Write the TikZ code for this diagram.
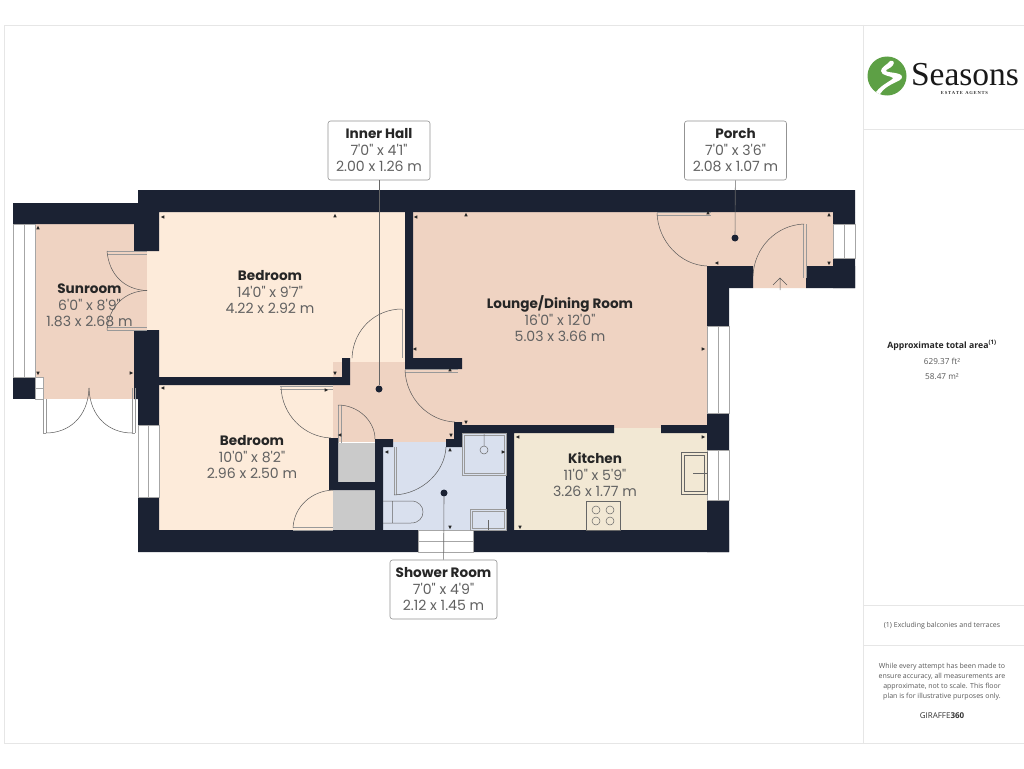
\documentclass[tikz,border=0pt]{standalone}
\usepackage{fontspec}
\setmainfont{Poppins}[Ligatures=TeXOff]
\newfontfamily\sidefont{Open Sans}
\newfontfamily\logofont{Liberation Serif}
\usetikzlibrary{arrows.meta,positioning,calc}
\definecolor{wallc}{HTML}{1B2233}
\definecolor{warmc}{HTML}{EFD3C2}
\definecolor{bedc}{HTML}{FDEBDA}
\definecolor{kitc}{HTML}{F2E8D4}
\definecolor{bathc}{HTML}{D9E0EE}
\definecolor{storec}{HTML}{CACACA}
\definecolor{framec}{HTML}{E6E6E6}
\definecolor{logoc}{HTML}{5DA045}
\newcommand{\roomname}[1]{\textcolor{black!85}{\fontsize{13.6}{16}\selectfont\bfseries #1}}
\begin{document}
\begin{tikzpicture}[x=1pt,y=-1pt,
    wall/.style={fill=wallc},
    window/.style={fill=white,draw=gray!70,line width=0.4pt},
    door/.style={draw=black!65,line width=0.5pt},
    doorframe/.style={draw=black!40,line width=0.6pt},
    fixture/.style={draw=black!60,line width=0.5pt},
    tray/.style={draw=gray!80,line width=1.3pt,double=bathc,double distance=0.6pt},
    tickmark/.style={fill=black!85},
    dot/.style={circle,fill=wallc,inner sep=0pt,minimum size=7pt},
    room/.style={align=center,text=black!62,font=\fontsize{14.1}{16}\selectfont},
    box/.style={room,draw=gray!85,fill=white,rounded corners=2.5pt,line width=0.6pt,
        minimum height=59pt,inner sep=0pt},
    side/.style={font=\sidefont\fontsize{8.2}{10}\selectfont,text=black!65,align=center},
    lead/.style={draw=black!60,line width=0.6pt}]
    \useasboundingbox (0,0) rectangle (1024,768);
    \fill[white] (0,0) rectangle (1024,768);
    % page frame and side panel
    \draw[framec,line width=0.8pt] (1024,25) -- (4,25) -- (4,743) -- (1024,743);
    \draw[framec,line width=0.8pt] (863.5,25) -- (863.5,743);
    \draw[framec,line width=0.8pt] (863.5,129) -- (1024,129) (863.5,605) -- (1024,605) (863.5,645) -- (1024,645);

    % floors
    \fill[warmc] (35,224) rectangle (147,399);
    \fill[bedc] (147,212) rectangle (405,377);
    \fill[bedc] (159,385) rectangle (333,530);
    \fill[warmc] (413,212) rectangle (707,428);
    \fill[warmc] (707,212) rectangle (833,266) (753,266) rectangle (806,288);
    \fill[warmc] (333,362) rectangle (455,442);
    \fill[kitc] (514,428) rectangle (707,530);
    \fill[bathc] (383,442) rectangle (506,530) (462,433) rectangle (506,442);
    \fill[storec] (338,443) rectangle (375,482) (333,490) rectangle (375,530);

    % walls
    \fill[wall] (138,190) rectangle (855,212) (13,203) rectangle (159,224);
    \fill[wall] (134,224) rectangle (159,251) (134,330) rectangle (159,399) (138,399) rectangle (159,425);
    \fill[wall] (138,497) rectangle (159,552) (138,530) rectangle (418,552) (473,530) rectangle (729,552);
    \fill[wall] (13,377) rectangle (35,399);
    \fill[wall] (159,377) rectangle (350,385) (342,358) rectangle (350,385);
    \fill[wall] (405,212) rectangle (413,369) (405,358) rectangle (462,369);
    \fill[wall] (454,422) rectangle (462,447) (446,439) rectangle (462,447);
    \fill[wall] (454,425) rectangle (614,433) (661,425) rectangle (707,433) (506,425) rectangle (514,530);
    \fill[wall] (707,266) rectangle (729,326) (707,413) rectangle (729,450) (707,500) rectangle (729,552);
    \fill[wall] (707,266) rectangle (753,288) (806,266) rectangle (855,288);
    \fill[wall] (833,212) rectangle (855,224) (833,258) rectangle (855,288);
    \fill[wall] (329,438) rectangle (338,490) (329,482) rectangle (375,490);
    \fill[wall] (375,439) rectangle (383,530) (375,439) rectangle (393,447);

    % windows
    \draw[window] (13,224) rectangle (35,377) (24.5,224) -- (24.5,377);
    \draw[window] (138,425) rectangle (159,497) (148.5,425) -- (148.5,497);
    \draw[window] (707,326) rectangle (729,413) (718,326) -- (718,413);
    \draw[window] (707,450) rectangle (729,500) (718,450) -- (718,500);
    \draw[window] (833,224) rectangle (855,258) (844,224) -- (844,258);
    \draw[window] (418,530) rectangle (473,552) (418,541) -- (473,541);
    \fill[warmc] (35,377) rectangle (43,388);
    \draw[window] (35,377) rectangle (43,399) (35,388) -- (43,388);

    % doors
    \draw[doorframe] (107,254) -- (147,254) (107,251) -- (147,251);
    \draw[door] (107,251) .. controls (109,275) and (125,290) .. (147,290.5);
    \draw[doorframe] (107,327) -- (147,327) (107,330) -- (147,330);
    \draw[door] (107,330) .. controls (109,306) and (125,291) .. (147,290.5);
    \draw[doorframe] (43,399) -- (43,433) (46,399) -- (46,433) (43,433) -- (46,433);
    \draw[door] (46,433) .. controls (68,433) and (88,418) .. (89,388);
    \draw[doorframe] (132,388) -- (132,433) (135,388) -- (135,433) (132,433) -- (135,433);
    \draw[door] (132,433) .. controls (110,433) and (90,418) .. (89,388);
    \draw[door] (352,358) .. controls (353,330) and (375,309) .. (402,309);
    \draw[doorframe] (402,309) -- (402,358);
    \draw[doorframe] (280,386) -- (333,386) (280,389) -- (333,389);
    \draw[door] (281,387) .. controls (282,415) and (304,437) .. (331,438);
    \draw[doorframe] (338,405) -- (338,443) (341,405) -- (341,443);
    \draw[door] (338,405) .. controls (358,405) and (375,421) .. (375,439);
    \draw[doorframe] (293,527) -- (333,527) (293,530) -- (333,530);
    \draw[door] (293,528) .. controls (294,507) and (311,491) .. (333,490);
    \draw[doorframe] (405,369) -- (458,369) (405,372) -- (458,372);
    \draw[door] (405,370) .. controls (406,398) and (428,421) .. (455,422);
    \draw[doorframe] (657,212) -- (711,212) (657,215) -- (711,215);
    \draw[door] (657,213) .. controls (658,241) and (680,265) .. (707,266);
    \draw[doorframe] (803,224) -- (803,278) (806,224) -- (806,278);
    \draw[door] (804,224) .. controls (776,225) and (754,248) .. (753,276);
    \draw[doorframe] (394,447) -- (394,495) (396.5,447) -- (396.5,495);
    \draw[door] (394,495) .. controls (422,494) and (445,472) .. (446,447);
    \draw[door] (780,290) -- (780,278) (773,285) -- (780,278) -- (787,285);

    % fixtures
    \draw[tray] (463.5,434.5) rectangle (505.5,474.5);
    \draw[fixture] (484,434) -- (484,446) (484,450) circle (4);
    \draw[tray] (471.5,510.5) rectangle (505.5,529.5);
    \draw[fixture] (488,520) -- (488,530);
    \draw[fixture] (383,501) -- (411,501) .. controls (427,501) and (427,523) .. (411,523) -- (383,523) (392.5,501) -- (392.5,523);
    \draw[fixture] (681,452) rectangle (707,494) (684,455) rectangle (704,491) (693,473) -- (707,473);
    \draw[fixture] (586,501) rectangle (620,530);
    \foreach \hx in {596,610} \foreach \hy in {510,521}
      \draw[fixture] (\hx,\hy) circle (4);

    % small wall ticks
    \foreach \tx/\ty/\ta in {38/228/90,38/373/270,131/373/0,163/217/180,335/216/90,335/373/270,
        163/388/180,326/390/0,340/435/180,415/349/180,416/217/180,466/215/90,703/349/0,
        450/370/90,466/422/270,451/435/270,450/450/90,518/437/180,703/437/0,520/527/270,
        450/527/270,387/452/180,503/452/0,829/215/90,829/263/270,717/263/180,708/213/90}
      \fill[tickmark,shift={(\tx,\ty)},rotate=\ta] (2.2,0) -- (-1.4,1.7) -- (-1.4,-1.7) -- cycle;

    % room names
    \node[room] (sunroom) at (89.5,305.5) {\roomname{Sunroom}\\[1pt]6'0" x 8'9"\\1.83 x 2.68 m};
    \node[room] (bedroomA) at (270,292.5) {\roomname{Bedroom}\\[1pt]14'0" x 9'7"\\4.22 x 2.92 m};
    \node[room] (bedroomB) at (252,457.5) {\roomname{Bedroom}\\[1pt]10'0" x 8'2"\\2.96 x 2.50 m};
    \node[room] (lounge) at (560,318.5) {\roomname{Lounge/Dining Room}\\[1pt]16'0" x 12'0"\\5.03 x 3.66 m};
    \node[room] (kitchen) at (595,474.5) {\roomname{Kitchen}\\[1pt]11'0" x 5'9"\\3.26 x 1.77 m};

    % call-outs
    \node[dot] (hallDot) at (379,389) {};
    \node[dot] (porchDot) at (735,238) {};
    \node[dot] (showerDot) at (444,493) {};
    \node[box,minimum width=102pt] (hallBox) at (379,150.5) {\roomname{Inner Hall}\\[1pt]7'0" x 4'1"\\2.00 x 1.26 m};
    \node[box,minimum width=102pt] (porchBox) at (735.5,150.5) {\roomname{Porch}\\[1pt]7'0" x 3'6"\\2.08 x 1.07 m};
    \node[box,minimum width=107pt] (showerBox) at (443.5,589.5) {\roomname{Shower Room}\\[1pt]7'0" x 4'9"\\2.12 x 1.45 m};
    \draw[lead] (hallBox) -- (hallDot);
    \draw[lead] (porchBox) -- (porchDot);
    \draw[lead] (showerBox) -- (showerDot);

    % logo
    \fill[logoc] (887,76) circle (19.5);
    \fill[white] (890,61) .. controls (893,60) and (895,62) .. (893,65) .. controls (890,69) and (886,69) .. (886,71)
      .. controls (887,73) and (902,72) .. (902,77) .. controls (902,82) and (887,83) .. (880,94)
      .. controls (878,94) and (877,93) .. (876,92) .. controls (882,84) and (893,80) .. (893,78)
      .. controls (892,76) and (881,76) .. (881,71) .. controls (881,67) and (887,65) .. (890,61) -- cycle;
    \node[font=\logofont\fontsize{33.5}{33}\selectfont,text=black!90,inner sep=0pt] (logoText) at (965,75) {Seasons};
    \node[font=\logofont\bfseries\fontsize{4.6}{5}\selectfont,text=black!80,inner sep=0pt] (logoSub) at (964.5,92.5) {E\,S\,T\,A\,T\,E\ \ A\,G\,E\,N\,T\,S};

    % side panel text
    \node[side,font=\sidefont\bfseries\fontsize{8.7}{10}\selectfont,text=black!85] (areaTitle) at (942,345) {Approximate total area\textsuperscript{(1)}};
    \node[side] (areaFt) at (942,361) {629.37 ft²};
    \node[side] (areaM) at (942,377) {58.47 m²};
    \node[side,font=\sidefont\fontsize{7}{10}\selectfont] (excl) at (942,625.5) {(1) Excluding balconies and terraces};
    \node[side,font=\sidefont\fontsize{7}{10}\selectfont] (disclaimer) at (942,681.5) {While every attempt has been made to\\ensure accuracy, all measurements are\\approximate, not to scale. This floor\\plan is for illustrative purposes only.};
    \node[side,font=\sidefont\fontsize{8}{10}\selectfont,text=black!80] (giraffe) at (942,716) {GIRAFFE{\bfseries 360}};
\end{tikzpicture}
\end{document}
